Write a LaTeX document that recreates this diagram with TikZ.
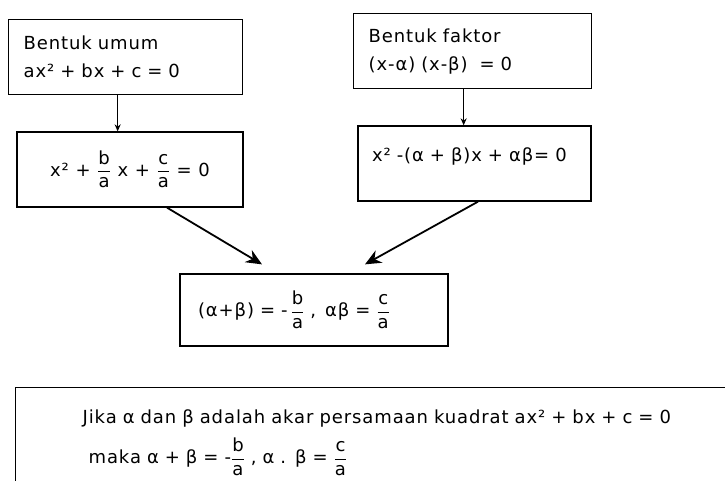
\documentclass[tikz,border=0pt]{standalone}
\usepackage{amsmath}
\usepackage{fontspec}
\setmainfont{DejaVu Sans}[LetterSpace=5]
\usetikzlibrary{arrows.meta, positioning, calc}
\newcommand{\pecah}[2]{$\dfrac{\text{#1}}{\text{#2}}$}

\begin{document}
\begin{tikzpicture}[x=1pt, y=-1pt,
    kotak/.style={draw, line width=1.3pt, font=\fontsize{18}{28}\selectfont},
    kiri/.style={kotak, align=left, inner xsep=15pt},
    panah/.style={-{Stealth[length=7pt,width=6pt]}, line width=1.2pt},
    panahbesar/.style={-{Stealth[length=16pt,width=14pt]}, line width=1.8pt}
]
    \useasboundingbox (0,0) rectangle (725,481);
    \fill[white] (0,0) rectangle (725,481);
    \clip (0,0) rectangle (725,481);

    \node[kiri, anchor=north west, text width=204pt, minimum height=75pt] (umum) at (8,19)
        {Bentuk umum\\ax² + bx + c = 0};
    \node[kiri, anchor=north west, text width=208pt, minimum height=75pt] (faktor) at (353,13)
        {Bentuk faktor\\(x-α) (x-β) \ = 0};

    \node[kotak, minimum width=226pt, minimum height=75pt] (bagi) at (130,169.5)
        {x² + \pecah{b}{a} x + \pecah{c}{a} = 0};
    \node[kiri, inner xsep=14pt, text width=205pt, minimum height=75pt, text depth=18pt] (kali) at (474.5,163.5)
        {x² -(α + β)x + αβ= 0};

    \node[kiri, inner xsep=18pt, text width=232pt, minimum height=72pt] (hasil) at (314,310)
        {(α+β) = -\,\pecah{b}{a} , \,αβ = \pecah{c}{a}};

    \node[kotak, anchor=north west, align=left, inner xsep=67pt, inner ysep=15pt,
          text width=640pt, minimum height=110pt] (rumus) at (15,387)
        {Jika α dan β adalah akar persamaan kuadrat ax² + bx + c = 0\\[10pt]
         \hspace*{6pt}maka α + β = -\pecah{b}{a} , α . β = \pecah{c}{a}};

    \draw[panah] ([xshift=-8pt]umum.south) -- ([xshift=-8pt]umum.south |- bagi.north);
    \draw[panah] ([xshift=-9pt]faktor.south) -- ([xshift=-9pt]faktor.south |- kali.north);
    \draw[panahbesar] ([xshift=37pt]bagi.south) -- ([xshift=-52pt,yshift=9pt]hasil.north);
    \draw[panahbesar] ([xshift=3.5pt]kali.south) -- ([xshift=51pt,yshift=9pt]hasil.north);
\end{tikzpicture}
\end{document}
